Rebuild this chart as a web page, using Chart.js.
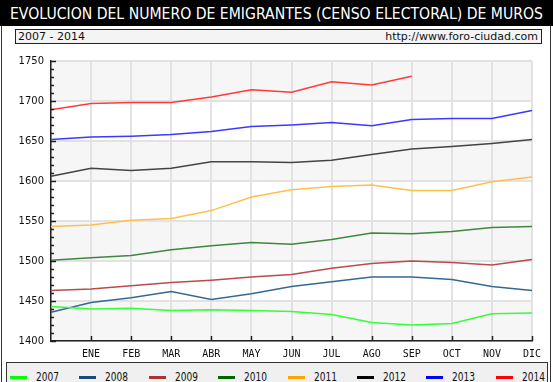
<!DOCTYPE html>
<html>
<head>
<meta charset="utf-8">
<script src="https://cdn.jsdelivr.net/npm/chart.js@4"></script>
<style>
  html, body { margin: 0; padding: 0; background: #fff; }
  body { width: 553px; height: 382px; position: relative; overflow: hidden; font-family: 'DejaVu Sans', sans-serif; }
  #frame { position: absolute; left: 1px; top: 0; width: 548px; height: 382px; border-left: 1px solid #333; border-right: 1px solid #333; }
  #header { position: absolute; left: 0; top: 0; width: 553px; height: 26px; background: #000; color: #fff;
            font-size: 15px; line-height: 26px; white-space: nowrap; }
  #header span { position: absolute; left: 10px; top: 1px; transform-origin: left center; }
  #sub { position: absolute; left: 15px; top: 29px; width: 525px; height: 13px; background: #f4f4f4; border: 1px solid #222;
         font-size: 11px; line-height: 13px; color: #111; }
  #sub .l { position: absolute; left: 2px; top: 0; }
  #sub .r { position: absolute; right: 3px; top: 0; }
  #wrap { position: absolute; left: 0; top: 46px; width: 553px; height: 316px; }
  #legend { position: absolute; left: 6px; top: 362px; width: 540px; height: 30px; background: #f0f0f0; border: 1px solid #333; }
  .item { position: absolute; top: 0; height: 20px; }
  .item .sw { position: absolute; left: 0; top: 13px; width: 17px; height: 3px; }
  .item .tx { position: absolute; left: 26px; top: 7px; font-family: 'DejaVu Sans', sans-serif;
              font-size: 12px; line-height: 14px; color: #111; white-space: nowrap; transform-origin: left center; }
</style>
</head>
<body>
<div id="frame"></div>
<div id="header"><span id="title">EVOLUCION DEL NUMERO DE EMIGRANTES (CENSO ELECTORAL) DE MUROS</span></div>
<div id="sub"><span class="l">2007 - 2014</span><span class="r">http://www.foro-ciudad.com</span></div>
<div id="wrap"><canvas id="chart"></canvas></div>
<div id="legend"></div>
<script>
const months = ['', 'ENE', 'FEB', 'MAR', 'ABR', 'MAY', 'JUN', 'JUL', 'AGO', 'SEP', 'OCT', 'NOV', 'DIC'];
const years = ['2007', '2008', '2009', '2010', '2011', '2012', '2013', '2014'];
const legendColors = ['#00ff00', '#1a4a78', '#aa3333', '#006600', '#ffa500', '#000000', '#0000ff', '#ff0000'];
const lineColors = ['#33ff33', '#336a93', '#bb4a4a', '#3f873f', '#ffbf4d', '#444444', '#3a3aff', '#ff3a3a'];

const v2007 = [1443, 1440, 1441, 1438, 1439, 1438, 1437, 1433, 1423, 1420, 1422, 1434, 1435];
const v2008 = [1436, 1448, 1454, 1462, 1452, 1459, 1468, 1474, 1480, 1480, 1477, 1468, 1463];
const v2009 = [1463, 1465, 1469, 1473, 1476, 1480, 1483, 1491, 1497, 1500, 1498, 1495, 1502];
const v2010 = [1501, 1504, 1507, 1514, 1519, 1523, 1521, 1527, 1535, 1534, 1537, 1542, 1543];
const v2011 = [1543, 1545, 1551, 1553, 1563, 1580, 1589, 1593, 1595, 1588, 1588, 1599, 1605];
const v2012 = [1606, 1616, 1613, 1616, 1624, 1624, 1623, 1626, 1633, 1640, 1643, 1647, 1652];
const v2013 = [1652, 1655, 1656, 1658, 1662, 1668, 1670, 1673, 1669, 1677, 1678, 1678, 1688];
const v2014 = [1689, 1697, 1698, 1698, 1705, 1714, 1711, 1724, 1720, 1731];
const series = [v2007, v2008, v2009, v2010, v2011, v2012, v2013, v2014];

const yMin = 1400, yMax = 1750, yStep = 50, yMinor = 10;

// squeeze a text span to a given width
function fitWidth(el, w) {
    const cur = el.getBoundingClientRect().width;
    el.style.transform = 'scaleX(' + (w / cur) + ')';
}

fitWidth(document.getElementById('title'), 533);

// legend
const legend = document.getElementById('legend');
years.forEach((y, i) => {
    const it = document.createElement('div');
    it.className = 'item';
    it.style.left = (3 + 69.4 * i) + 'px';
    it.innerHTML = '<div class="sw" style="background:' + legendColors[i] + '"></div><div class="tx">' + y + '</div>';
    legend.appendChild(it);
    fitWidth(it.querySelector('.tx'), 23);
});

const bandsPlugin = {
    id: 'bands',
    beforeDraw(chart) {
        const ctx = chart.ctx;
        const a = chart.chartArea;
        const ys = chart.scales.y;
        ctx.save();
        for (let v = yMin, k = 0; v < yMax; v += yStep, k++) {
            ctx.fillStyle = (k % 2 === 0) ? '#f6f6f6' : '#ffffff';
            const top = ys.getPixelForValue(v + yStep);
            const bot = ys.getPixelForValue(v);
            ctx.fillRect(a.left, top, a.right - a.left, bot - top);
        }
        ctx.restore();
    },
    afterDraw(chart) {
        const ctx = chart.ctx;
        const a = chart.chartArea;
        const ys = chart.scales.y;
        const xs = chart.scales.x;
        ctx.save();
        ctx.strokeStyle = '#222';
        ctx.lineWidth = 1.5;
        ctx.beginPath();
        for (let v = yMin; v <= yMax; v += yMinor) {
            const py = Math.round(ys.getPixelForValue(v)) + 0.5;
            const len = (v % yStep === 0) ? 5 : 3;
            ctx.moveTo(a.left, py);
            ctx.lineTo(a.left + len, py);
        }
        for (let i = 1; i < months.length; i++) {
            const px = Math.round(xs.getPixelForValue(i)) + 0.5;
            ctx.moveTo(px, a.bottom);
            ctx.lineTo(px, a.bottom - 5);
        }
        ctx.stroke();
        ctx.restore();
    }
};

new Chart(document.getElementById('chart'), {
    type: 'line',
    data: {
        labels: months,
        datasets: years.map((y, i) => ({
            label: y,
            data: series[i],
            borderColor: lineColors[i],
            backgroundColor: lineColors[i],
            borderWidth: 1.5,
            pointRadius: 0,
            tension: 0,
            fill: false
        }))
    },
    options: {
        responsive: true,
        maintainAspectRatio: false,
        animation: false,
        layout: { padding: { top: 15, right: 21, left: 0, bottom: 0 } },
        plugins: {
            legend: { display: false },
            tooltip: { enabled: false }
        },
        scales: {
            x: {
                offset: false,
                grid: { color: '#e2e2e2', lineWidth: 2, drawTicks: false },
                border: { color: '#222', width: 1.5 },
                ticks: {
                    autoSkip: false,
                    maxRotation: 0,
                    padding: 7,
                    color: '#111',
                    font: { family: "'DejaVu Sans Mono', monospace", size: 10 }
                },
                afterFit: s => { s.height = 21; }
            },
            y: {
                min: yMin,
                max: yMax,
                grid: { color: '#e2e2e2', lineWidth: 2, drawTicks: false },
                border: { color: '#222', width: 1.5 },
                ticks: {
                    stepSize: yStep,
                    padding: 7,
                    color: '#111',
                    font: { family: "'DejaVu Sans', sans-serif", size: 10 },
                    callback: v => String(v)
                },
                afterFit: s => { s.width = 51; }
            }
        }
    },
    plugins: [bandsPlugin]
});
</script>
</body>
</html>
